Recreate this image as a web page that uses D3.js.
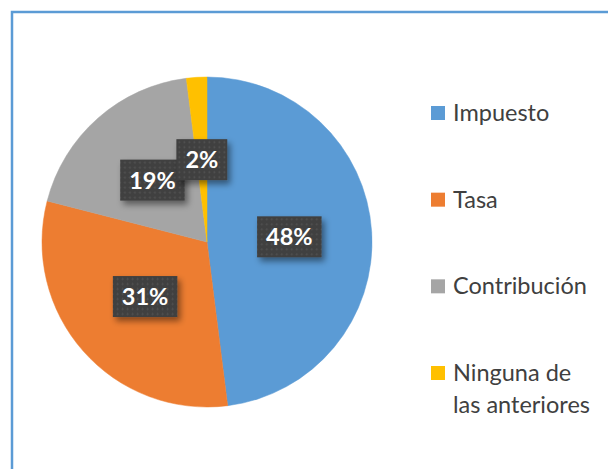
<!DOCTYPE html>
<html>
<head>
<meta charset="utf-8">
<script src="https://cdn.jsdelivr.net/npm/d3@7"></script>
<style>
  body { margin: 0; background: #ffffff; }
  svg { display: block; }
</style>
</head>
<body>
<svg id="chart" width="608" height="469"></svg>
<script>
const categories = ['Impuesto', 'Tasa', 'Contribución', 'Ninguna de las anteriores'];
const values = [48, 31, 19, 2];
const labels = ['48%', '31%', '19%', '2%'];
const legendLines = [['Impuesto'], ['Tasa'], ['Contribución'], ['Ninguna de', 'las anteriores']];
const colors = ['#5b9bd5', '#ed7d31', '#a5a5a5', '#ffc000'];

const svg = d3.select('#chart');
const cx = 207, cy = 242, radius = 165;

// frame
svg.append('rect')
  .attr('x', 12)
  .attr('y', 12)
  .attr('width', 620)
  .attr('height', 480)
  .attr('fill', '#ffffff')
  .attr('stroke', '#5b9bd5')
  .attr('stroke-width', 2.5);

const defs = svg.append('defs');
const pat = defs.append('pattern')
  .attr('id', 'dots')
  .attr('width', 5)
  .attr('height', 5)
  .attr('patternUnits', 'userSpaceOnUse');
pat.append('rect').attr('width', 5).attr('height', 5).attr('fill', '#404040');
pat.append('circle').attr('cx', 2.5).attr('cy', 2.5).attr('r', 0.9).attr('fill', '#555555');

const shadow = defs.append('filter')
  .attr('id', 'shadow')
  .attr('x', '-30%').attr('y', '-30%')
  .attr('width', '160%').attr('height', '160%');
shadow.append('feDropShadow')
  .attr('dx', 3).attr('dy', 4)
  .attr('stdDeviation', 3)
  .attr('flood-color', '#000000')
  .attr('flood-opacity', 0.45);

const pie = d3.pie().sort(null).value(d => d);
const arcs = pie(values);
const arc = d3.arc().innerRadius(0).outerRadius(radius);

const g = svg.append('g').attr('transform', `translate(${cx},${cy})`);

g.selectAll('path.slice')
  .data(arcs)
  .join('path')
  .attr('class', 'slice')
  .attr('d', arc)
  .attr('fill', (d, i) => colors[i])
  .attr('stroke', (d, i) => colors[i])
  .attr('stroke-width', 0.5);

// data labels
const lg = g.selectAll('g.label')
  .data(arcs)
  .join('g')
  .attr('class', 'label')
  .attr('transform', d => `translate(${arc.centroid(d)})`);

lg.each(function(d, i) {
  const el = d3.select(this);
  const box = el.append('rect')
    .attr('fill', 'url(#dots)')
    .attr('filter', 'url(#shadow)');
  const t = el.append('text')
    .attr('text-anchor', 'middle')
    .attr('dy', '0.36em')
    .style('font-family', 'Lato, "Open Sans", sans-serif')
    .style('font-weight', 'bold')
    .style('font-size', '23.5px')
    .attr('fill', '#ffffff')
    .text(labels[i]);
  const w = t.node().getComputedTextLength() + 18;
  const h = 41;
  box.attr('x', -w / 2).attr('y', -h / 2).attr('width', w).attr('height', h);
});

// legend
const legend = svg.append('g').attr('transform', 'translate(431,0)');
const legendY = d3.scalePoint().domain(categories).range([113, 373]);

categories.forEach((c, i) => {
  const y = legendY(c);
  legend.append('rect')
    .attr('x', 0)
    .attr('y', y - 7)
    .attr('width', 14)
    .attr('height', 14)
    .attr('fill', colors[i]);
  const t = legend.append('text')
    .attr('x', 22)
    .attr('y', y)
    .style('font-family', 'Lato, "Open Sans", sans-serif')
    .style('font-size', '23.5px')
    .attr('fill', '#404040');
  legendLines[i].forEach((line, j) => {
    t.append('tspan')
      .attr('x', 22)
      .attr('y', y + 8 + j * 32)
      .text(line);
  });
});
</script>
</body>
</html>
